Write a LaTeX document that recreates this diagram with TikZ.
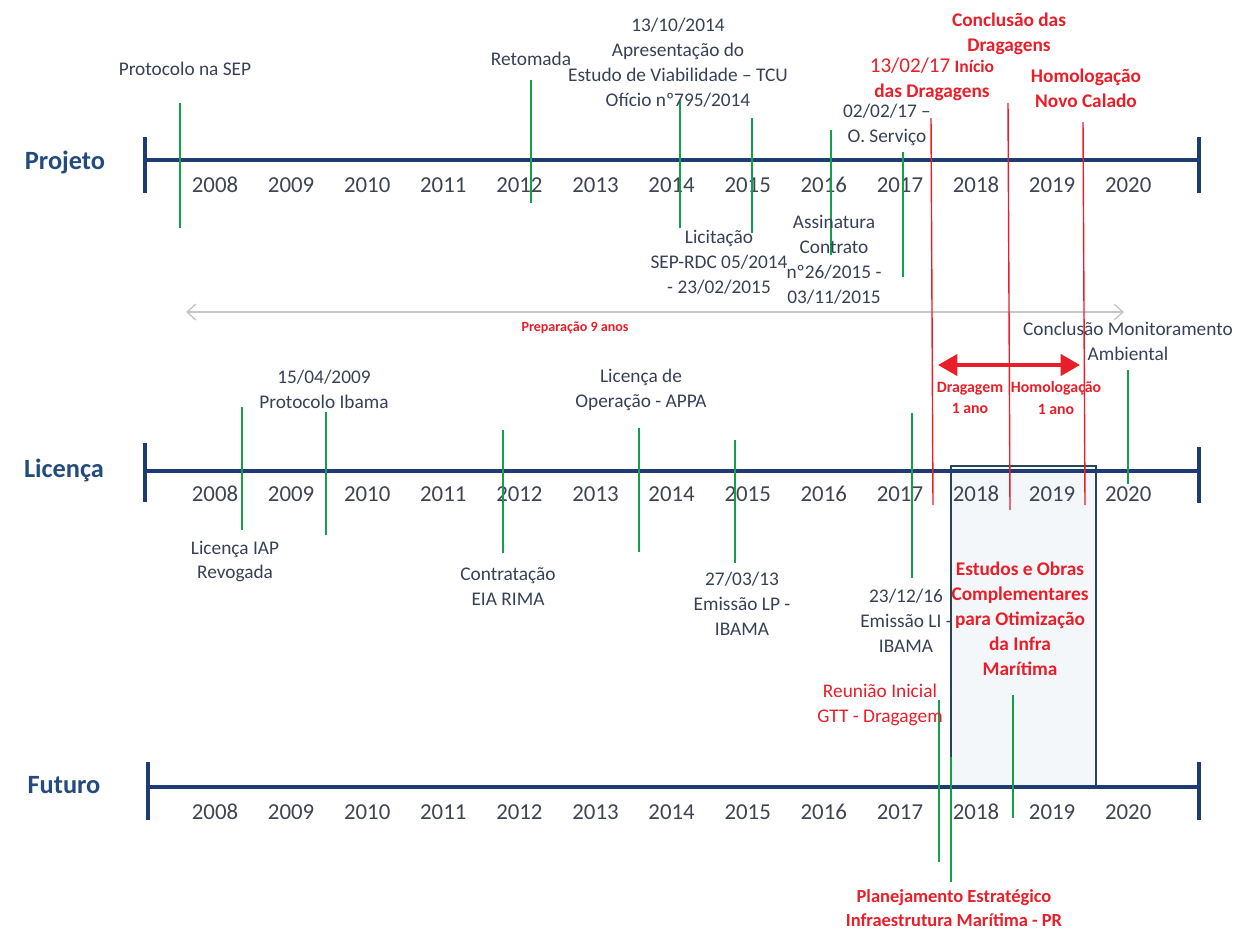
\documentclass[tikz,border=0pt]{standalone}
\usepackage{fontspec}
\setmainfont{Carlito}
\usetikzlibrary{arrows.meta,positioning}

\definecolor{navy}{RGB}{30,60,115}
\definecolor{axc}{RGB}{35,75,125}
\definecolor{txt}{RGB}{55,65,85}
\definecolor{yrc}{RGB}{62,68,82}
\definecolor{grnc}{RGB}{20,160,75}
\definecolor{redc}{RGB}{232,30,40}
\definecolor{boxc}{RGB}{40,70,80}
\definecolor{boxf}{RGB}{244,247,250}

\tikzset{
  axisline/.style={navy, line width=2.8pt},
  axistick/.style={navy, line width=2pt},
  grn/.style={grnc, line width=1.3pt},
  redl/.style={redc, line width=0.8pt},
  lbl/.style={text=txt, font=\fontsize{11}{14.2}\selectfont, align=center, inner sep=0pt},
  redlbl/.style={lbl, text=redc, font=\bfseries\fontsize{11}{14.2}\selectfont},
  smallred/.style={lbl, text=redc, font=\bfseries\fontsize{9}{12}\selectfont},
  yr/.style={text=yrc, font=\fontsize{13}{15}\selectfont, inner sep=0pt},
  axlbl/.style={text=axc, font=\bfseries\fontsize{15}{18}\selectfont, inner sep=0pt},
  prepline/.style={gray!45, line width=0.8pt,
    arrows={Straight Barb[length=5pt,width=9pt]-Straight Barb[length=5pt,width=9pt]}},
  durarrow/.style={redc, line width=2.2pt,
    arrows={Triangle[length=11pt,width=12pt]-Triangle[length=11pt,width=12pt]}},
  studybox/.style={draw=boxc, fill=boxf, line width=1pt}
}

\begin{document}
\begin{tikzpicture}[x=0.02cm, y=-0.02cm]
  \useasboundingbox (0,0) rectangle (1243,931);

  % axis labels
  \node[axlbl] (proj) at (65,162) {Projeto};
  \node[axlbl] (lic) at (64,470) {Licença};
  \node[axlbl] (fut) at (64,785) {Futuro};

  % label hidden partly by the box
  \node[lbl] (li) at (906,621) {23/12/16\\Emissão LI -\\IBAMA};

  % box
  \draw[studybox] (951,466) rectangle (1096,786);

  % axes
  \draw[axisline] (145,160) -- (1199,160);
  \draw[axistick] (145,137) -- (145,193);
  \draw[axistick] (1199,137) -- (1199,193);
  \draw[axisline] (145,471) -- (1199,471);
  \draw[axistick] (145,443) -- (145,502);
  \draw[axistick] (1199,447) -- (1199,503);
  \draw[axisline] (148,787) -- (1199,787);
  \draw[axistick] (148,762) -- (148,820);
  \draw[axistick] (1199,762) -- (1199,820);

  % years
  \foreach \i in {0,...,12} {
    \pgfmathtruncatemacro{\yy}{2008+\i}
    \node[yr] (py\i) at (215+76.1*\i,185) {\yy};
    \node[yr] (ly\i) at (215+76.1*\i,494) {\yy};
    \node[yr] (fy\i) at (215+76.1*\i,812) {\yy};
  }

  % preparation
  \draw[prepline] (186,312) -- (1124,312);
  \node[lbl, text=redc, font=\bfseries\fontsize{8}{10}\selectfont] (prep) at (575,328) {Preparação 9 anos};

  % red milestones
  \draw[redl] (931,118) -- (933,505);
  \draw[redl] (1008,103) -- (1010,510);
  \draw[redl] (1083,122) -- (1085,505);
  \draw[durarrow] (938,365) -- (1080,365);
  \node[smallred] (drag) at (970,398) {Dragagem\\1 ano};
  \node[smallred] (homano) at (1056,398) {Homologação\\1 ano};

  % Projeto
  \draw[grn] (180,103) -- (180,228);
  \node[lbl] (sep) at (185,69) {Protocolo na SEP};
  \draw[grn] (531,80) -- (531,203);
  \node[lbl] (ret) at (531,59) {Retomada};
  \draw[grn] (680,100) -- (680,228);
  \node[lbl] (tcu) at (678,62.5) {13/10/2014\\Apresentação do\\Estudo de Viabilidade – TCU\\Ofício nº795/2014};
  \draw[grn] (752,118) -- (752,233);
  \node[lbl] (licit) at (719,262) {Licitação\\SEP-RDC 05/2014\\- 23/02/2015};
  \draw[grn] (831,130) -- (831,255);
  \node[lbl] (assin) at (834,260) {Assinatura\\Contrato\\nº26/2015 -\\03/11/2015};
  \draw[grn] (903,152) -- (903,277);
  \node[lbl] (oserv) at (887,125) {02/02/17 –\\O. Serviço};
  \node[redlbl] (inicio) at (932,79) {{\mdseries\fontsize{12}{14.2}\selectfont 13/02/17} {\fontsize{10}{14.2}\selectfont Início}\\das Dragagens};
  \node[redlbl] (concl) at (1009,34) {Conclusão das\\Dragagens};
  \node[redlbl] (homol) at (1086,88) {Homologação\\Novo Calado};

  % Licenca
  \draw[grn] (242,407) -- (242,530);
  \node[lbl] (iap) at (235,561.5) {Licença IAP\\Revogada};
  \draw[grn] (326,412) -- (326,535);
  \node[lbl] (ibama) at (324,389.5) {15/04/2009\\Protocolo Ibama};
  \draw[grn] (503,430) -- (503,553);
  \node[lbl] (eia) at (508,587) {Contratação\\EIA RIMA};
  \draw[grn] (639,428) -- (639,552);
  \node[lbl] (appa) at (641,389.5) {Licença de\\Operação - APPA};
  \draw[grn] (735,440) -- (735,563);
  \node[lbl] (lp) at (742,604) {27/03/13\\Emissão LP -\\IBAMA};
  \draw[grn] (912,413) -- (912,578);
  \draw[grn] (1128,370) -- (1128,484);
  \node[lbl] (monit) at (1128,341.5) {Conclusão Monitoramento\\Ambiental};

  % box text
  \node[redlbl] (estudos) at (1020,618.5) {Estudos e Obras\\Complementares\\para Otimização\\da Infra\\Marítima};

  % Futuro
  \draw[grn] (939,700) -- (939,862);
  \node[lbl, text=redc] (gtt) at (880,704.5) {Reunião Inicial\\GTT - Dragagem};
  \draw[grn] (951,757) -- (951,882);
  \node[redlbl, font=\bfseries\fontsize{10.5}{13.5}\selectfont] (plan) at (954,908) {Planejamento Estratégico\\Infraestrutura Marítima - PR};
  \draw[grn] (1013,695) -- (1013,818);
\end{tikzpicture}
\end{document}
